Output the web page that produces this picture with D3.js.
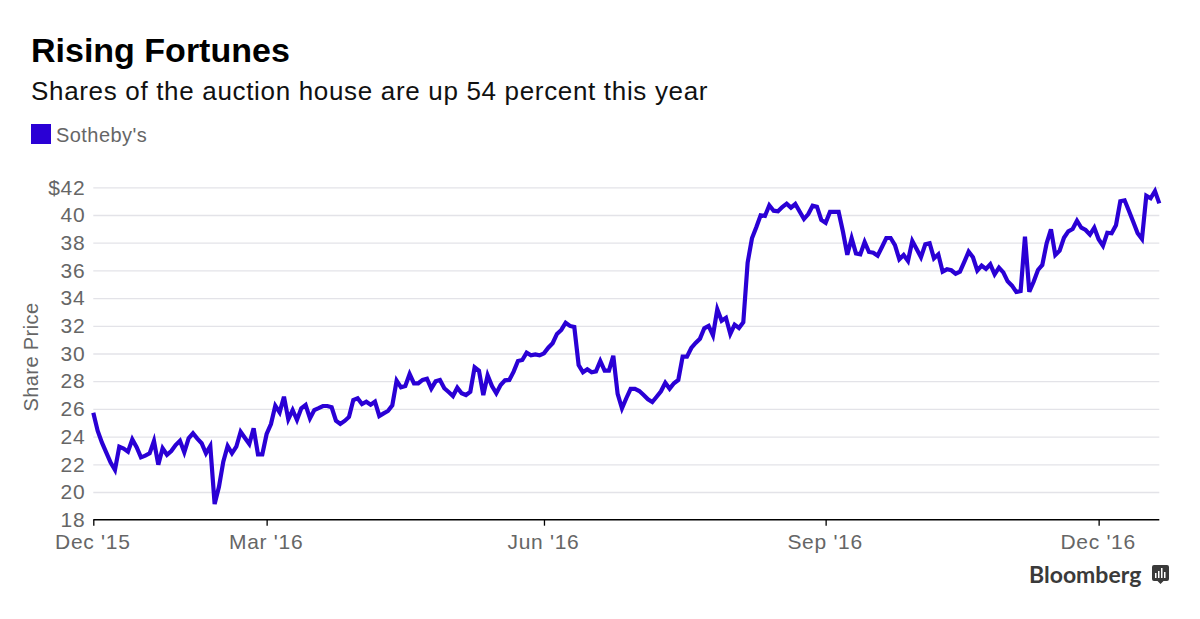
<!DOCTYPE html>
<html>
<head>
<meta charset="utf-8">
<script src="https://d3js.org/d3.v7.min.js"></script>
<style>
  html, body { margin: 0; padding: 0; background: #fff; }
  text { font-family: "Liberation Sans", sans-serif; }
  .grid line { stroke: #e3e3e8; stroke-width: 1.3px; }
  .tick text { fill: #666; font-size: 21px; letter-spacing: 0.7px; }
</style>
</head>
<body>
<svg width="1200" height="619"></svg>
<script>
// one closing price per trading session
var prices = [
  25.73, 24.43, 23.56, 22.84, 22.12, 21.59, 23.27, 23.13, 22.91, 23.80,
  23.23, 22.50, 22.62, 22.79, 23.68, 21.97, 23.16, 22.69, 22.96, 23.39,
  23.70, 22.87, 23.88, 24.24, 23.85, 23.52, 22.79, 23.32, 19.13, 20.38,
  22.19, 23.32, 22.79, 23.27, 24.35, 23.90, 23.47, 24.60, 22.72, 22.72,
  24.19, 24.91, 26.23, 25.75, 26.88, 25.25, 25.92, 25.20, 26.04, 26.28,
  25.32, 25.92, 26.06, 26.21, 26.21, 26.12, 25.15, 24.91, 25.13, 25.42,
  26.64, 26.77, 26.35, 26.52, 26.30, 26.52, 25.49, 25.68, 25.85, 26.26,
  28.04, 27.56, 27.65, 28.52, 27.85, 27.85, 28.09, 28.18, 27.46, 27.99,
  28.09, 27.49, 27.22, 26.93, 27.53, 27.13, 27.00, 27.24, 29.00, 28.76,
  27.00, 28.43, 27.65, 27.13, 27.73, 28.06, 28.09, 28.69, 29.46, 29.53,
  30.06, 29.87, 29.94, 29.87, 30.01, 30.42, 30.74, 31.41, 31.70, 32.22,
  31.99, 31.91, 29.17, 28.64, 28.86, 28.64, 28.71, 29.46, 28.76, 28.76,
  29.84, 27.08, 26.04, 26.77, 27.44, 27.44, 27.29, 27.00, 26.69, 26.50,
  26.88, 27.27, 27.89, 27.46, 27.85, 28.09, 29.77, 29.77, 30.40, 30.76,
  31.07, 31.82, 31.99, 31.31, 33.19, 32.37, 32.58, 31.41, 32.08, 31.84,
  32.25, 36.56, 38.32, 39.11, 39.98, 39.93, 40.70, 40.31, 40.27, 40.58,
  40.82, 40.53, 40.79, 40.25, 39.71, 40.07, 40.67, 40.60, 39.64, 39.44,
  40.22, 40.22, 40.22, 38.79, 37.13, 38.32, 37.23, 37.16, 38.05, 37.33,
  37.28, 37.06, 37.69, 38.34, 38.34, 37.83, 36.80, 37.11, 36.68, 38.12,
  37.55, 36.95, 37.88, 37.96, 36.87, 37.16, 35.91, 36.08, 36.01, 35.76,
  35.91, 36.61, 37.35, 36.95, 35.98, 36.34, 36.10, 36.44, 35.72, 36.20,
  35.86, 35.21, 34.90, 34.44, 34.51, 38.43, 34.46, 35.18, 36.03, 36.39,
  37.96, 38.97, 37.11, 37.42, 38.36, 38.82, 38.99, 39.59, 39.08, 38.92,
  38.58, 39.08, 38.25, 37.78, 38.72, 38.68, 39.26, 40.99, 41.06, 40.29,
  39.49, 38.68, 38.27, 41.39, 41.21, 41.73, 40.84
];

// x axis ticks sit on these sessions
var xTickSessions = [0, 40, 104, 169, 232];
var xTickLabels = ["Dec '15", "Mar '16", "Jun '16", "Sep '16", "Dec '16"];
var yTicks = [18, 20, 22, 24, 26, 28, 30, 32, 34, 36, 38, 40, 42];

var lineColor = "#2a00d5";

var svg = d3.select("svg");

var x = d3.scaleLinear().domain([0, prices.length - 1]).range([93.3, 1159.3]);
var y = d3.scaleLinear().domain([18, 42]).range([519.7, 187.3]);

// title block
svg.append("text").attr("x", 31).attr("y", 62)
    .attr("font-size", 34).attr("font-weight", "bold").attr("fill", "#000")
    .text("Rising Fortunes");
svg.append("text").attr("x", 31).attr("y", 100)
    .attr("font-size", 26).attr("letter-spacing", 0.67).attr("fill", "#111")
    .text("Shares of the auction house are up 54 percent this year");

// legend
svg.append("rect").attr("x", 31).attr("y", 124).attr("width", 20).attr("height", 20)
    .attr("fill", lineColor);
svg.append("text").attr("x", 56).attr("y", 142)
    .attr("font-size", 20).attr("letter-spacing", 0.45).attr("fill", "#666")
    .text("Sotheby's");

// y axis with gridlines
svg.append("g")
    .attr("class", "grid")
    .attr("transform", "translate(93.3,0)")
    .call(d3.axisLeft(y).tickValues(yTicks).tickSize(-1066).tickPadding(8)
        .tickFormat(d => d === 42 ? "$42" : d))
    .call(g => g.select(".domain").remove())
    .call(g => g.selectAll(".tick").filter(d => d === 18).select("line").remove());

svg.append("text")
    .attr("transform", "translate(38,357) rotate(-90)")
    .attr("text-anchor", "middle")
    .attr("font-size", 20).attr("letter-spacing", 0.4).attr("fill", "#666")
    .text("Share Price");

// x axis
var xAxis = svg.append("g")
    .attr("transform", "translate(0," + y(18) + ")")
    .call(d3.axisBottom(x).tickValues(xTickSessions).tickSize(6).tickPadding(8)
        .tickFormat((d, i) => xTickLabels[i]));
xAxis.select(".domain").attr("d", "M" + x.range()[0] + ",0H" + x.range()[1]).attr("stroke", "#000").attr("stroke-width", 1.4);
xAxis.selectAll(".tick line").attr("stroke", "#000").attr("stroke-width", 1.3);
xAxis.selectAll(".tick text").attr("x", -1);

// price line
var line = d3.line().x((d, i) => x(i)).y(d => y(d));
svg.append("path")
    .datum(prices)
    .attr("d", line)
    .attr("fill", "none")
    .attr("stroke", lineColor)
    .attr("stroke-width", 4.2)
    .attr("stroke-linejoin", "miter");

// bloomberg mark
svg.append("text").attr("x", 1029).attr("y", 583)
    .attr("font-size", 23).attr("font-weight", 700).attr("fill", "#3a3a3a")
    .style("font-family", "Lato, sans-serif")
    .text("Bloomberg");
var logo = svg.append("g").attr("transform", "translate(1152,565)");
logo.append("path")
    .attr("d", "M2,0H15a2,2 0 0 1 2,2V14a2,2 0 0 1 -2,2H11.5L8.5,19L5.500,16H2a2,2 0 0 1 -2,-2V2a2,2 0 0 1 2,-2Z")
    .attr("fill", "#3a3a3a");
logo.selectAll("rect").data([[3, 8, 5], [6, 6, 7], [9, 3, 10], [12, 7, 6]]).enter().append("rect")
    .attr("x", d => d[0]).attr("y", d => d[1]).attr("width", 1.5).attr("height", d => d[2])
    .attr("fill", "#fff");
</script>
</body>
</html>
